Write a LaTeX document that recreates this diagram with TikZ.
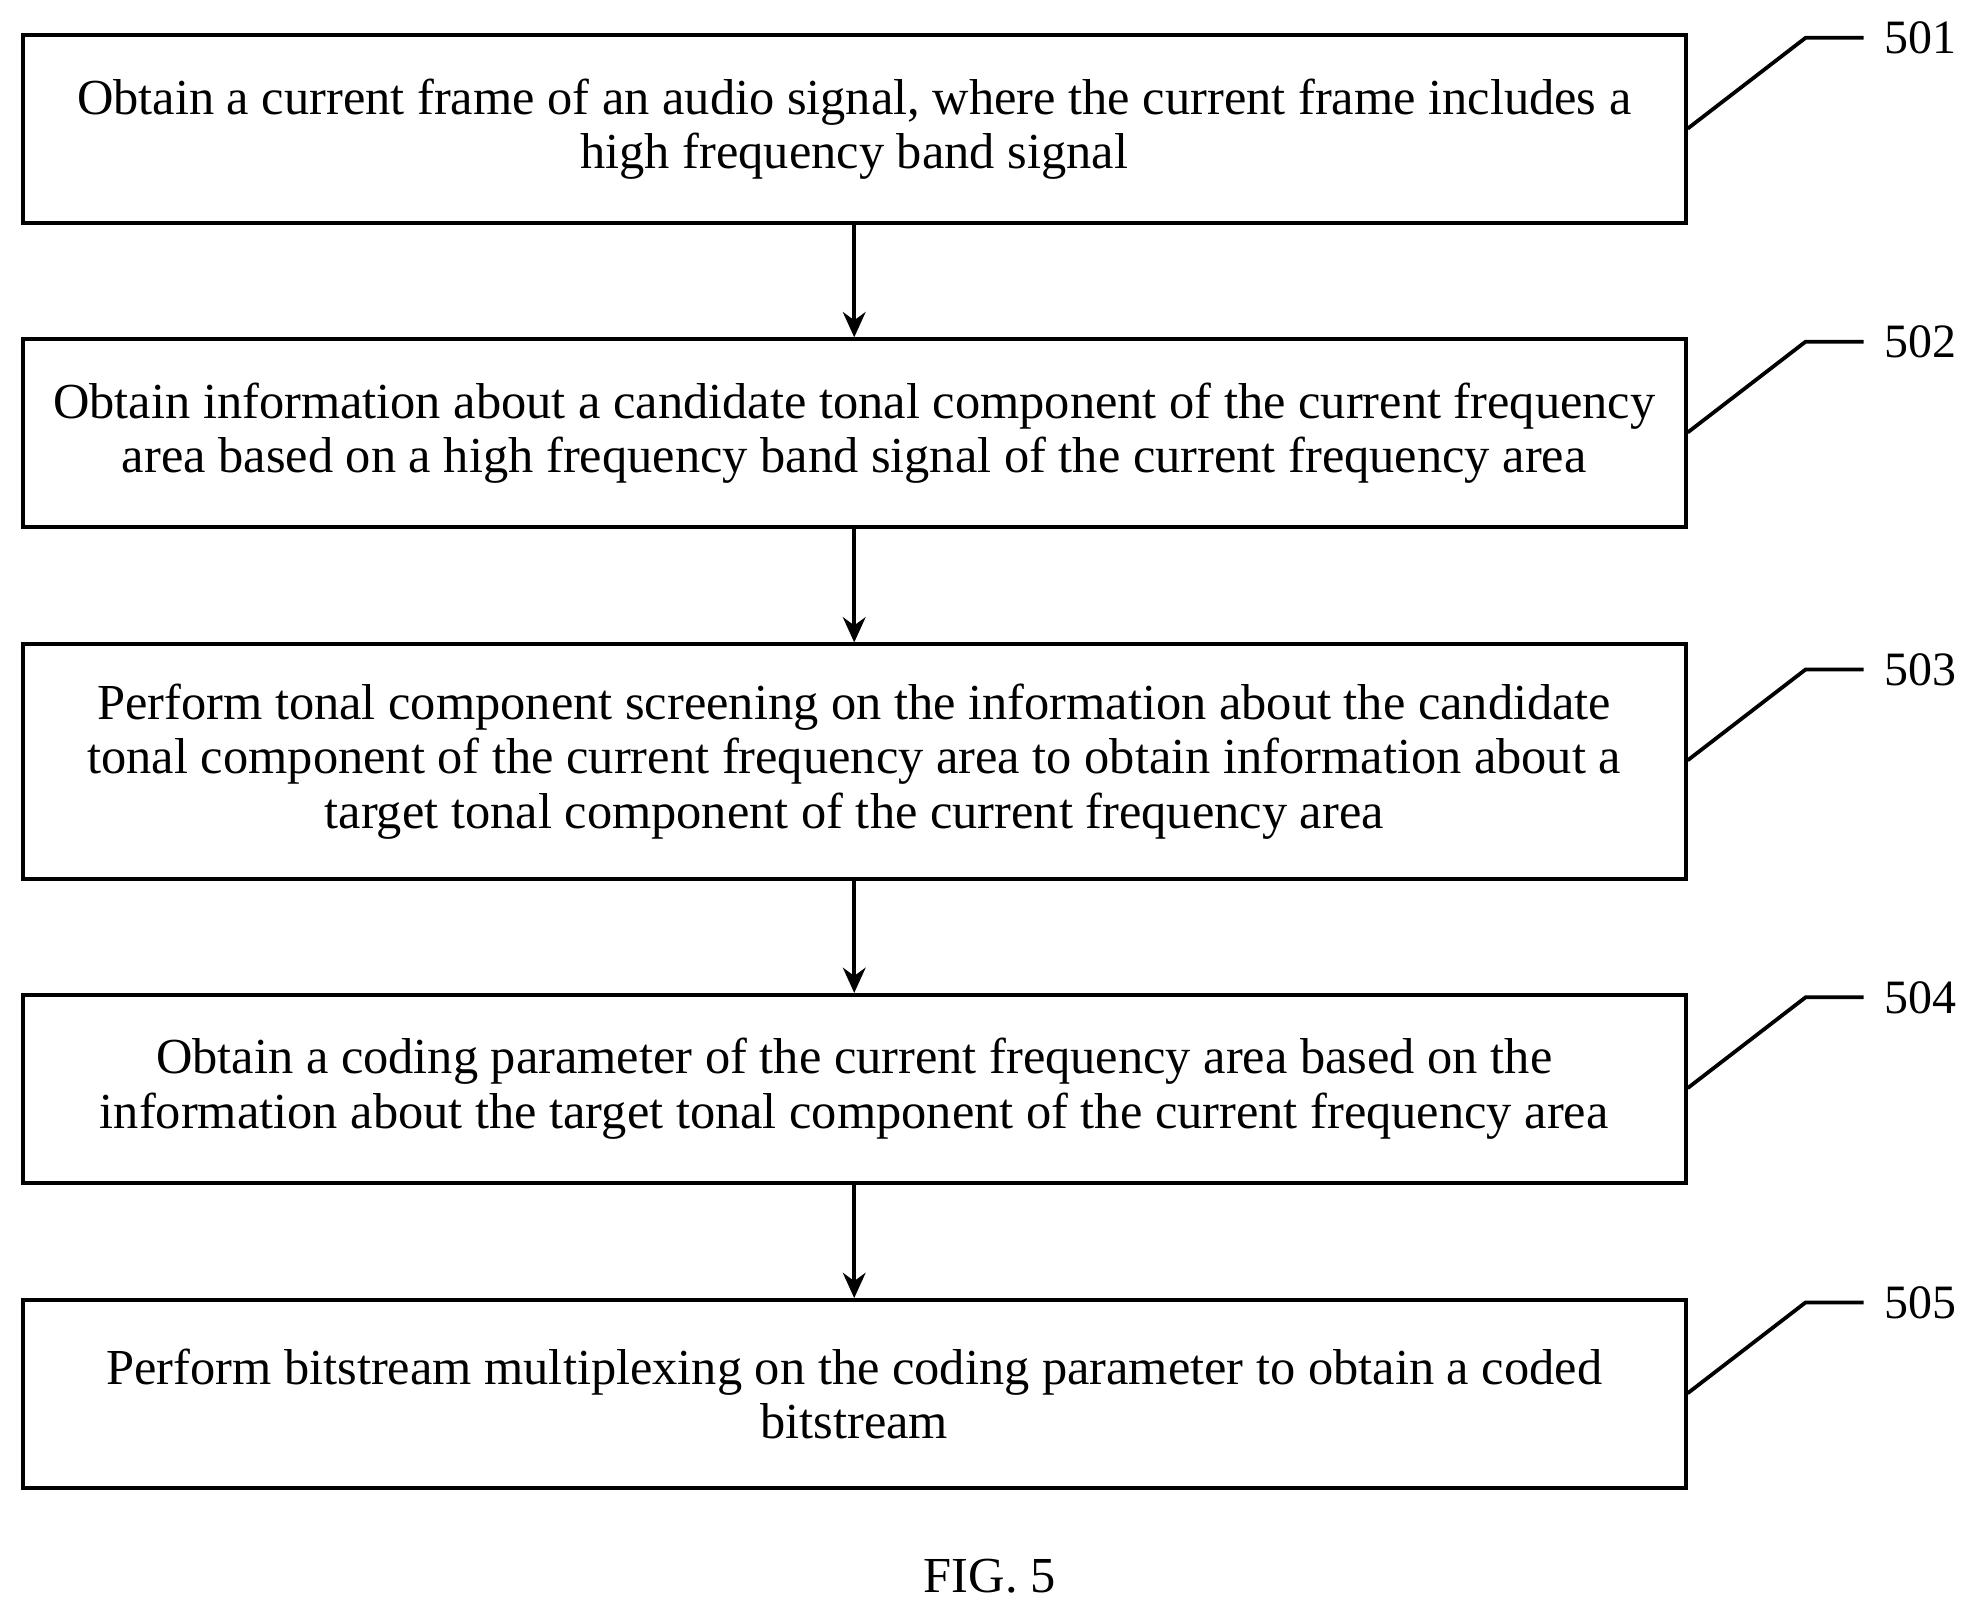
\documentclass[tikz,border=0pt]{standalone}
\usepackage{fontspec}
\setmainfont{Liberation Serif}
\usetikzlibrary{arrows.meta}
\begin{document}
\begin{tikzpicture}[x=0.5pt,y=-0.5pt,
  box/.style={draw,line width=1.5pt,minimum width=659.5pt,align=center,font=\fontsize{20}{21.5}\selectfont,inner sep=0pt},
  lbl/.style={font=\fontsize{19}{20}\selectfont,anchor=west,inner sep=0pt},
  lead/.style={line width=1.5pt},
  arr/.style={line width=1.5pt,-{Stealth[length=10pt,width=9pt]}}]
\useasboundingbox (0,0) rectangle (1568,1280);
\node[box,minimum height=74.5pt] (b1) at (677.5,102.5) {Obtain a current frame of an audio signal, where the current frame includes a\\high frequency band signal};
\node[box,minimum height=74.5pt] (b2) at (677.5,343.5) {Obtain information about a candidate tonal component of the current frequency\\area based on a high frequency band signal of the current frequency area};
\node[box,minimum height=93pt] (b3) at (677.5,604) {Perform tonal component screening on the information about the candidate\\tonal component of the current frequency area to obtain information about a\\target tonal component of the current frequency area};
\node[box,minimum height=74.5pt] (b4) at (677.5,863.5) {Obtain a coding parameter of the current frequency area based on the\\information about the target tonal component of the current frequency area};
\node[box,minimum height=74.5pt] (b5) at (677.5,1105.5) {Perform bitstream multiplexing on the coding parameter to obtain a coded\\bitstream};
\foreach \a/\b in {b1/b2,b2/b3,b3/b4,b4/b5} \draw[arr] (\a.south) -- (\b.north);
\foreach \n/\t/\y in {b1/501/30,b2/502/271,b3/503/531,b4/504/791,b5/505/1033}{
  \coordinate (k\t) at (1432,\y);
  \node[lbl] (l\t) at (1494,\y) {\t};
  \draw[lead] (\n.east |- 0,\y+72) -- (k\t) -- (1478,\y);
}
\node[font=\fontsize{20}{22}\selectfont] (fig) at (785,1250) {FIG. 5};
\end{tikzpicture}
\end{document}
